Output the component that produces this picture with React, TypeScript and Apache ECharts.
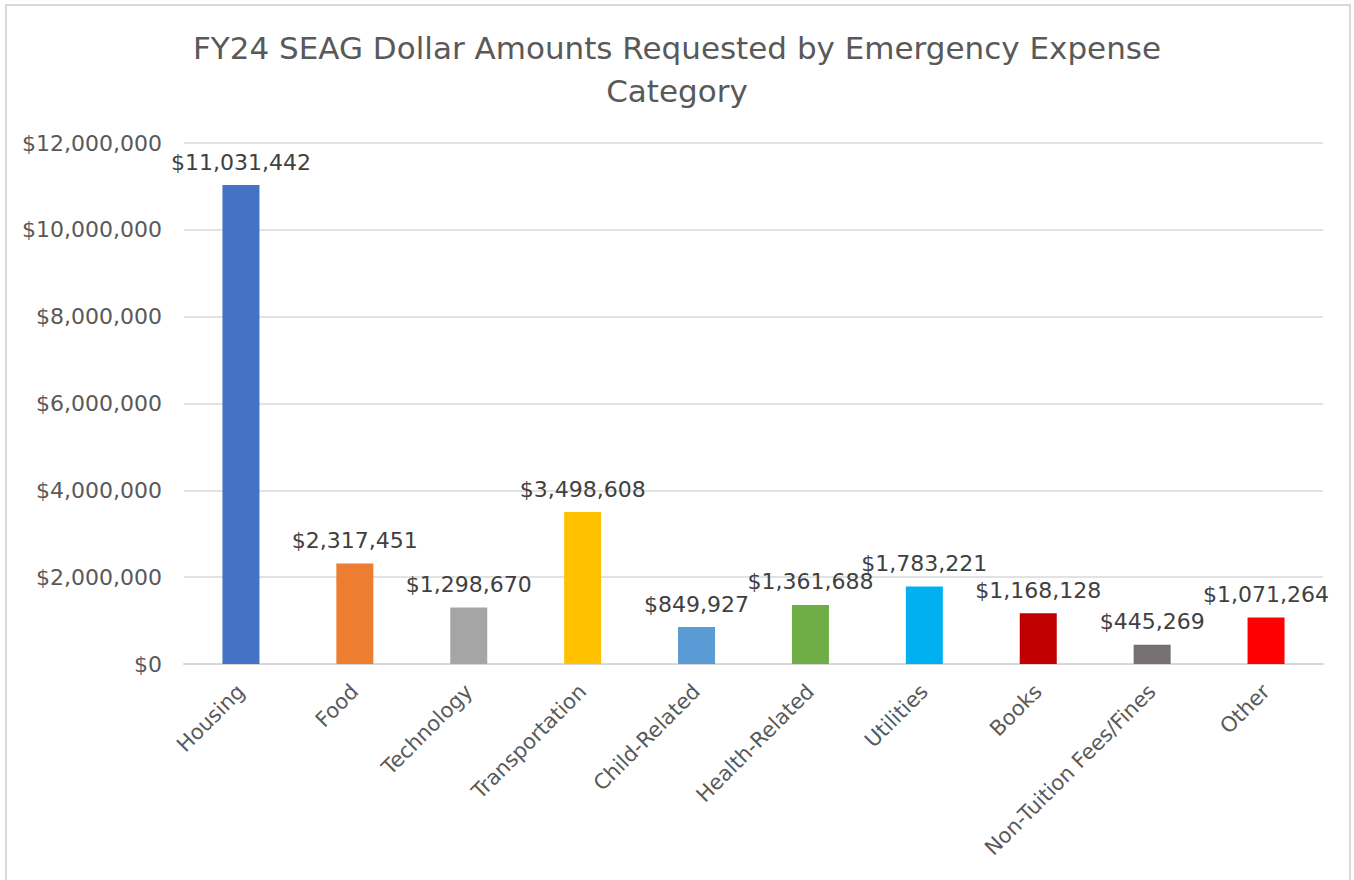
import React, { useEffect, useRef } from "react";
import * as echarts from "echarts";

const categories = [
  "Housing",
  "Food",
  "Technology",
  "Transportation",
  "Child-Related",
  "Health-Related",
  "Utilities",
  "Books",
  "Non-Tuition Fees/Fines",
  "Other",
];
const amounts = [11031442, 2317451, 1298670, 3498608, 849927, 1361688, 1783221, 1168128, 445269, 1071264];
const barColors = [
  "#4472C4",
  "#ED7D31",
  "#A5A5A5",
  "#FFC000",
  "#5B9BD5",
  "#70AD47",
  "#00B0F0",
  "#C00000",
  "#767171",
  "#FF0000",
];
const titleText = "FY24 SEAG Dollar Amounts Requested by Emergency Expense\nCategory";

const fmt = (v: number) => "$" + Math.round(v).toLocaleString("en-US");

export default function App() {
  const ref = useRef<HTMLDivElement>(null);
  useEffect(() => {
    if (!ref.current) return;
    const chart = echarts.init(ref.current, undefined, { renderer: "svg" });
    const font = "DejaVu Sans";
    chart.setOption({
      animation: false,
      backgroundColor: "#ffffff",
      title: {
        text: titleText,
        left: "center",
        top: 21,
        textStyle: {
          fontFamily: font,
          fontSize: 31,
          fontWeight: "normal",
          color: "#595959",
          lineHeight: 43,
          align: "center",
        },
      },
      graphic: [
        {
          type: "rect",
          shape: { x: 6, y: 5, width: 1344, height: 900 },
          style: { fill: "none", stroke: "#D9D9D9", lineWidth: 2 },
          silent: true,
        },
      ],
      grid: { left: 184, right: 31, top: 143, bottom: 216 },
      xAxis: {
        type: "category",
        data: categories,
        axisTick: { show: false },
        axisLine: { lineStyle: { color: "#D9D9D9", width: 2 } },
        axisLabel: {
          rotate: 45,
          interval: 0,
          margin: 24,
          fontFamily: font,
          fontSize: 21,
          color: "#595959",
        },
      },
      yAxis: {
        type: "value",
        min: 0,
        max: 12000000,
        interval: 2000000,
        axisLine: { show: false },
        axisTick: { show: false },
        splitLine: { lineStyle: { color: "#D9D9D9", width: 1.5 } },
        axisLabel: {
          margin: 22,
          fontFamily: font,
          fontSize: 22,
          color: "#595959",
          formatter: (v: number) => fmt(v),
        },
      },
      series: [
        {
          type: "bar",
          barWidth: 37,
          data: amounts.map((v, i) => ({ value: v, itemStyle: { color: barColors[i] } })),
          label: {
            show: true,
            position: "top",
            distance: 12,
            fontFamily: font,
            fontSize: 22,
            color: "#404040",
            formatter: (p: any) => fmt(p.value),
          },
        },
      ],
    });
    return () => chart.dispose();
  }, []);
  return (
    <div
      ref={ref}
      style={{ position: "fixed", left: 0, top: 0, width: 1354, height: 880 }}
    />
  );
}
